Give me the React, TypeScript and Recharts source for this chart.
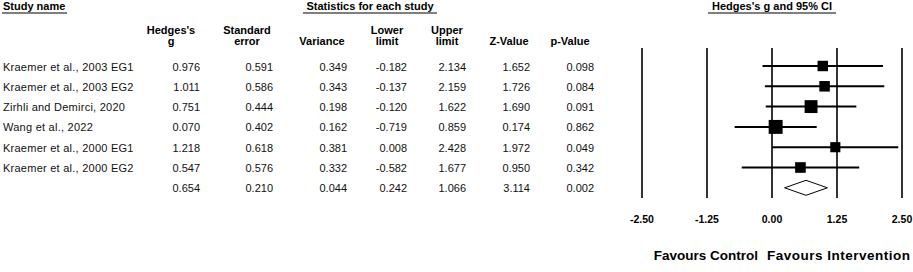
import { ScatterChart, Scatter, XAxis, YAxis, ReferenceLine, ErrorBar } from 'recharts'

// Study-level results
const studyNames = [
  'Kraemer et al., 2003 EG1',
  'Kraemer et al., 2003 EG2',
  'Zirhli and Demirci, 2020',
  'Wang et al., 2022',
  'Kraemer et al., 2000 EG1',
  'Kraemer et al., 2000 EG2',
]
const hedgesG = [0.976, 1.011, 0.751, 0.07, 1.218, 0.547]
const stdError = [0.591, 0.586, 0.444, 0.402, 0.618, 0.576]
const variance = [0.349, 0.343, 0.198, 0.162, 0.381, 0.332]
const lowerLimit = [-0.182, -0.137, -0.12, -0.719, 0.008, -0.582]
const upperLimit = [2.134, 2.159, 1.622, 0.859, 2.428, 1.677]
const zValue = [1.652, 1.726, 1.69, 0.174, 1.972, 0.95]
const pValue = [0.098, 0.084, 0.091, 0.862, 0.049, 0.342]

// pooled estimate: g, se, variance, lower, upper, z, p
const summaryRow = [0.654, 0.21, 0.044, 0.242, 1.066, 3.114, 0.002]

const axisTicks = [-2.5, -1.25, 0, 1.25, 2.5]

const FONT = '"Liberation Sans", Arial, Helvetica, sans-serif'
const W = 913
const H = 272
const PLOT_TOP = 48
const PLOT_BOTTOM = 198
const FIRST_ROW = 66
const ROW_PX = 20.3
const yDomain = [-(FIRST_ROW - PLOT_TOP) / ROW_PX, (PLOT_BOTTOM - FIRST_ROW) / ROW_PX]
const COL_RIGHT = [200, 273, 347, 407, 466, 530, 594]
const DIAMOND_HALF = 7.5 / ROW_PX

const studies = studyNames.map((name, i) => ({
  name,
  x: hedgesG[i],
  y: i,
  err: [hedgesG[i] - lowerLimit[i], upperLimit[i] - hedgesG[i]],
  weight: 1 / variance[i],
  cells: [hedgesG[i], stdError[i], variance[i], lowerLimit[i], upperLimit[i], zValue[i], pValue[i]],
}))

const sumIdx = studies.length
const summary = [{ x: summaryRow[0], y: sumIdx, cells: summaryRow }]
const diamond = [
  { x: summaryRow[3], y: sumIdx },
  { x: summaryRow[0], y: sumIdx - DIAMOND_HALF },
  { x: summaryRow[4], y: sumIdx },
  { x: summaryRow[0], y: sumIdx + DIAMOND_HALF },
  { x: summaryRow[3], y: sumIdx },
]

function RowText({ cy, name, cells }: { cy: number; name?: string; cells: number[] }) {
  return (
    <g fontFamily={FONT} fontSize={11} fill="#111">
      {name && (
        <text x={3} y={cy + 4.5} letterSpacing={0.25}>
          {name}
        </text>
      )}
      {cells.map((v, i) => (
        <text key={i} x={COL_RIGHT[i]} y={cy + 4.5} textAnchor="end">
          {v.toFixed(3)}
        </text>
      ))}
    </g>
  )
}

const StudyShape = (props: any) => {
  const { cx, cy, payload } = props
  const s = 3 + 4.4 * Math.sqrt(payload.weight)
  return (
    <g>
      <rect x={cx - s / 2} y={cy - s / 2} width={s} height={s} fill="#000" />
      <RowText cy={cy} name={payload.name} cells={payload.cells} />
    </g>
  )
}

const SummaryShape = (props: any) => <RowText cy={props.cy} cells={props.payload.cells} />

const bold = { fontFamily: FONT, fontWeight: 700, fontSize: 11, fill: '#000' }

const colHeads: [number, string, string][] = [
  [171, "Hedges's", 'g'],
  [247, 'Standard', 'error'],
  [322, '', 'Variance'],
  [387, 'Lower', 'limit'],
  [447, 'Upper', 'limit'],
  [509, '', 'Z-Value'],
  [570, '', 'p-Value'],
]

export default function App() {
  return (
    <div style={{ position: 'absolute', left: 0, top: 0, width: W, height: H, background: '#fff' }}>
      <ScatterChart width={W} height={H} margin={{ top: PLOT_TOP, right: 11, bottom: H - PLOT_BOTTOM - 30, left: 642 }}>
        <XAxis
          type="number"
          dataKey="x"
          domain={[-2.5, 2.5]}
          ticks={axisTicks}
          tickFormatter={(v: number) => v.toFixed(2)}
          axisLine={false}
          tickLine={false}
          tickMargin={11.5}
          height={30}
          tick={{ fontFamily: FONT, fontSize: 10.5, fontWeight: 700, fill: '#000' }}
        />
        <YAxis type="number" dataKey="y" domain={yDomain} reversed hide width={0} />
        {axisTicks.map(t => (
          <ReferenceLine key={t} x={t} stroke="#000" strokeWidth={1.6} />
        ))}
        <Scatter data={studies} shape={StudyShape} isAnimationActive={false}>
          <ErrorBar dataKey="err" direction="x" width={0} stroke="#000" strokeWidth={2} isAnimationActive={false} />
        </Scatter>
        <Scatter data={summary} shape={SummaryShape} isAnimationActive={false} />
        <Scatter
          data={diamond}
          line={{ stroke: '#000', strokeWidth: 1 }}
          lineType="joint"
          shape={() => <g />}
          isAnimationActive={false}
        />
      </ScatterChart>
      <svg width={W} height={H} style={{ position: 'absolute', left: 0, top: 0, pointerEvents: 'none' }}>
        <text x={3} y={10} {...bold}>Study name</text>
        <line x1={2} x2={67} y1={13} y2={13} stroke="#000" />
        <text x={370} y={10} textAnchor="middle" {...bold}>Statistics for each study</text>
        <line x1={303} x2={437} y1={13} y2={13} stroke="#000" />
        <text x={772} y={10} textAnchor="middle" {...bold}>Hedges's g and 95% CI</text>
        <line x1={708} x2={836} y1={13} y2={13} stroke="#000" />
        {colHeads.map(([cx, l1, l2]) => (
          <g key={l2 + cx}>
            {l1 && <text x={cx} y={34} textAnchor="middle" {...bold}>{l1}</text>}
            <text x={cx} y={45} textAnchor="middle" {...bold}>{l2}</text>
          </g>
        ))}
        <text x={758} y={259.5} textAnchor="end" {...bold} fontSize={13.5}>Favours Control</text>
        <text x={767} y={259.5} {...bold} fontSize={13.5} letterSpacing={0.5}>Favours Intervention</text>
      </svg>
    </div>
  )
}
